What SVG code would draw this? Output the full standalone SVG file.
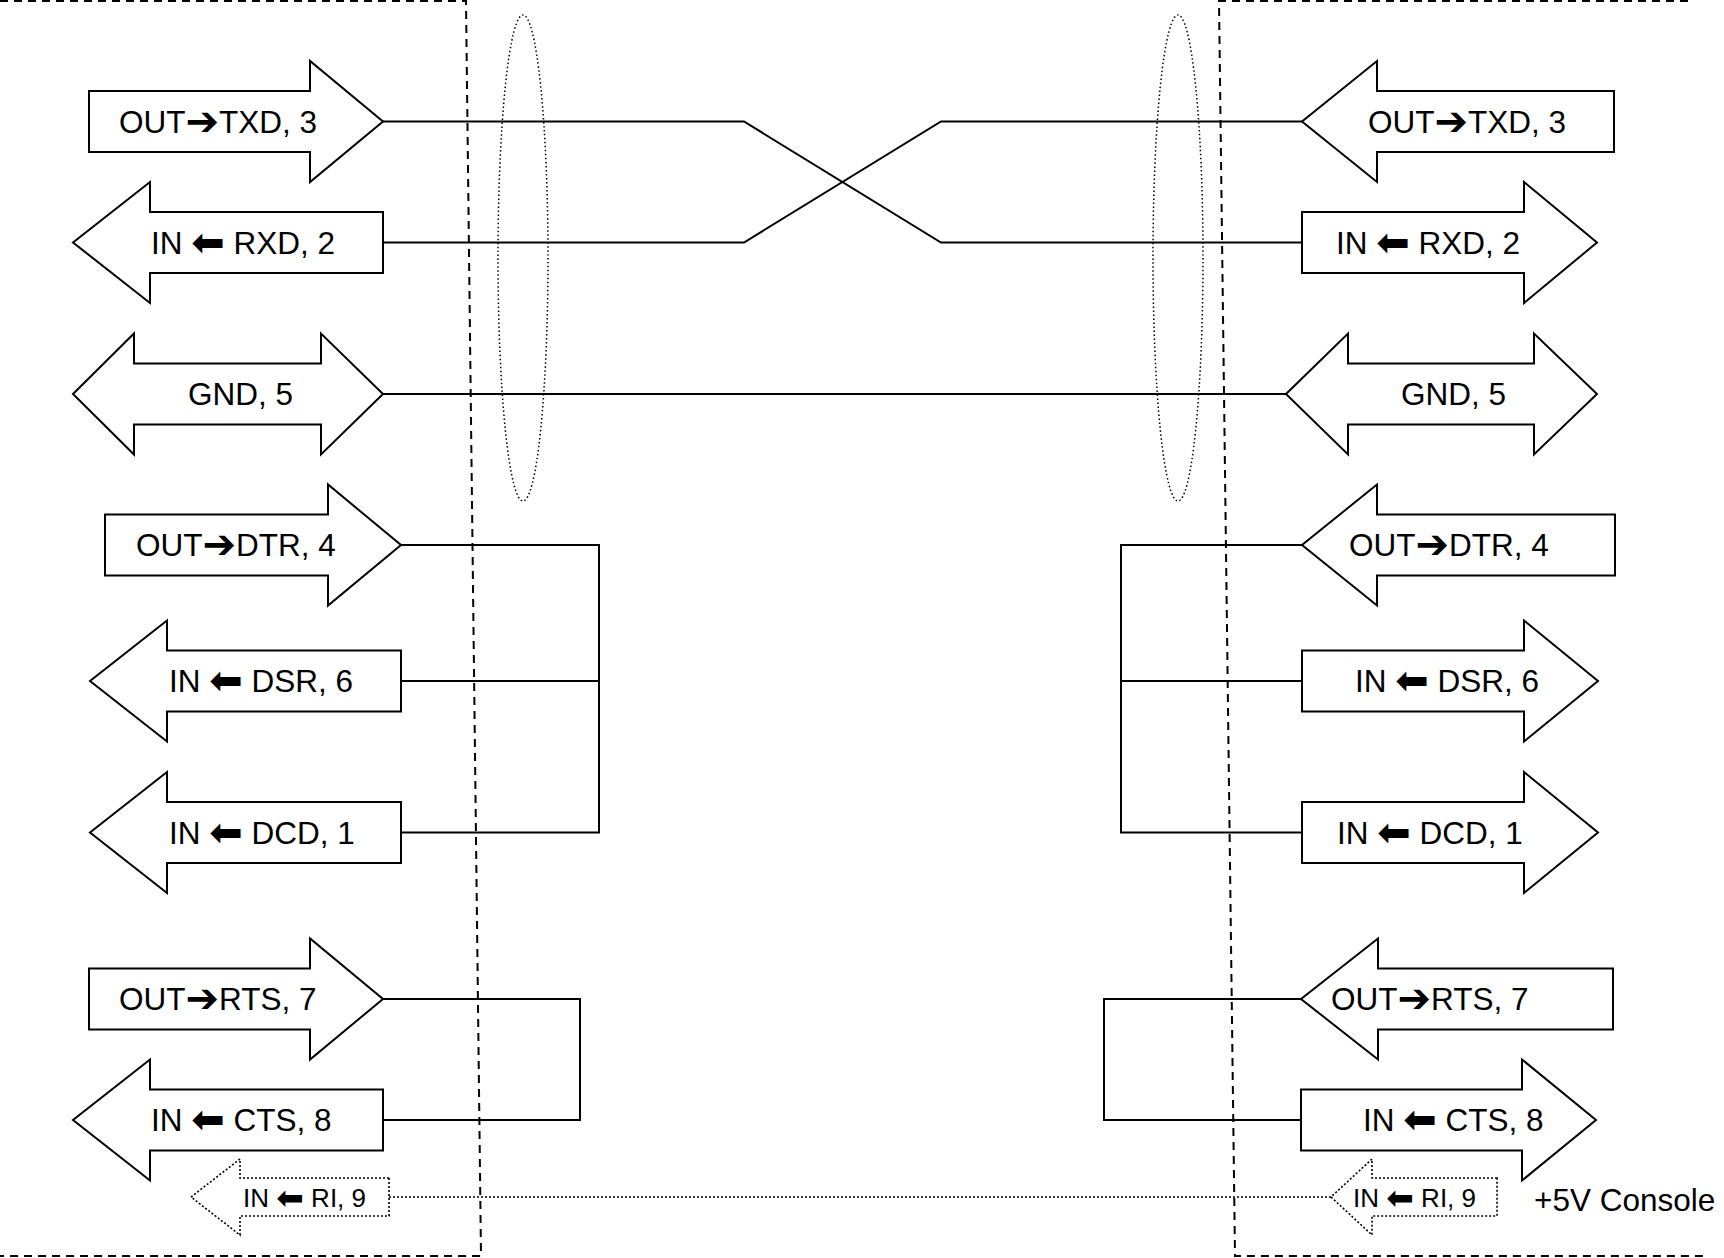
<svg xmlns="http://www.w3.org/2000/svg" width="1724" height="1258" viewBox="0 0 1724 1258">
<style>
.bg{fill:#fff}
.arr{fill:#fff;stroke:#000;stroke-width:2;stroke-linejoin:miter}
.dot{fill:#fff;stroke:#000;stroke-width:1.6;stroke-dasharray:2 2}
.w{fill:none;stroke:#000;stroke-width:2}
.wd{fill:none;stroke:#000;stroke-width:1.6;stroke-dasharray:2 2}
.box{fill:none;stroke:#000;stroke-width:2;stroke-dasharray:8 6}
.ell{fill:none;stroke:#000;stroke-width:1.5;stroke-dasharray:1.5 2.5}
text{font-family:"Liberation Sans","DejaVu Sans",sans-serif;font-size:31.5px;fill:#000}
.s{font-size:26px}
.a{font-family:"DejaVu Sans",sans-serif;font-size:40px}
.s .a{font-size:33px}
</style>
<rect class="bg" x="0" y="0" width="1724" height="1258"/>
<g id="boxes">
<polyline class="box" points="0,1 466,1 481,1256 0,1256"/>
<polyline class="box" points="1688,1 1219,1 1235,1256 1704,1256"/>
</g>
<g id="cables">
<ellipse class="ell" cx="523" cy="258" rx="25" ry="243"/>
<ellipse class="ell" cx="1178" cy="258" rx="25" ry="243"/>
</g>
<g id="connectors">
<polyline class="w" points="383,121.5 744,121.5 941,242.5 1302,242.5"/>
<polyline class="w" points="383,242.5 744,242.5 941,121.5 1302,121.5"/>
<line class="w" x1="383" y1="394" x2="1286" y2="394"/>
<polyline class="w" points="401,545 599,545 599,832.5 401,832.5"/>
<line class="w" x1="401" y1="681" x2="599" y2="681"/>
<polyline class="w" points="1302,545 1121,545 1121,832.5 1302,832.5"/>
<line class="w" x1="1121" y1="681" x2="1302" y2="681"/>
<polyline class="w" points="383,999 580,999 580,1120 383,1120"/>
<polyline class="w" points="1301,999 1104,999 1104,1120 1301,1120"/>
<line class="wd" x1="389" y1="1197" x2="1331" y2="1197"/>
</g>
<g id="l-txd"><path class="arr" d="M89,91H310V61L383,121.5L310,182V152H89Z"/><text x="119" y="132.5">OUT<tspan class="a" dy="2">➔</tspan><tspan dy="-2">TXD, 3</tspan></text></g>
<g id="l-rxd"><path class="arr" d="M383,212H150V182L73,242.5L150,303V273H383Z"/><text x="151" y="253.5">IN <tspan class="a" dy="2">⬅</tspan><tspan dy="-2"> RXD, 2</tspan></text></g>
<g id="l-gnd"><path class="arr" d="M73,394L134,333.5V363.5H321V333.5L383,394L321,454.5V424.5H134V454.5Z"/><text x="188" y="405">GND, 5</text></g>
<g id="l-dtr"><path class="arr" d="M105,514.5H328V484.5L401,545L328,605.5V575.5H105Z"/><text x="136" y="556">OUT<tspan class="a" dy="2">➔</tspan><tspan dy="-2">DTR, 4</tspan></text></g>
<g id="l-dsr"><path class="arr" d="M401,650.5H167V620.5L90,681L167,741.5V711.5H401Z"/><text x="169" y="692">IN <tspan class="a" dy="2">⬅</tspan><tspan dy="-2"> DSR, 6</tspan></text></g>
<g id="l-dcd"><path class="arr" d="M401,802H167V772L90,832.5L167,893V863H401Z"/><text x="169" y="843.5">IN <tspan class="a" dy="2">⬅</tspan><tspan dy="-2"> DCD, 1</tspan></text></g>
<g id="l-rts"><path class="arr" d="M89,968.5H310V938.5L383,999L310,1059.5V1029.5H89Z"/><text x="119" y="1010">OUT<tspan class="a" dy="2">➔</tspan><tspan dy="-2">RTS, 7</tspan></text></g>
<g id="l-cts"><path class="arr" d="M383,1089.5H150V1059.5L73,1120L150,1180.5V1150.5H383Z"/><text x="151" y="1131">IN <tspan class="a" dy="2">⬅</tspan><tspan dy="-2"> CTS, 8</tspan></text></g>
<g id="l-ri"><path class="dot" d="M389,1178H240V1159L191,1197L240,1235V1216H389Z"/><text class="s" x="243" y="1207">IN <tspan class="a" dy="1.5">⬅</tspan><tspan dy="-1.5"> RI, 9</tspan></text></g>
<g id="r-txd"><path class="arr" d="M1614,91H1377V61L1302,121.5L1377,182V152H1614Z"/><text x="1368" y="132.5">OUT<tspan class="a" dy="2">➔</tspan><tspan dy="-2">TXD, 3</tspan></text></g>
<g id="r-rxd"><path class="arr" d="M1302,212H1524V182L1597,242.5L1524,303V273H1302Z"/><text x="1336" y="253.5">IN <tspan class="a" dy="2">⬅</tspan><tspan dy="-2"> RXD, 2</tspan></text></g>
<g id="r-gnd"><path class="arr" d="M1286,394L1348,333.5V363.5H1534V333.5L1597,394L1534,454.5V424.5H1348V454.5Z"/><text x="1401" y="405">GND, 5</text></g>
<g id="r-dtr"><path class="arr" d="M1615,514.5H1377V484.5L1302,545L1377,605.5V575.5H1615Z"/><text x="1349" y="556">OUT<tspan class="a" dy="2">➔</tspan><tspan dy="-2">DTR, 4</tspan></text></g>
<g id="r-dsr"><path class="arr" d="M1302,650.5H1524V620.5L1598,681L1524,741.5V711.5H1302Z"/><text x="1355" y="692">IN <tspan class="a" dy="2">⬅</tspan><tspan dy="-2"> DSR, 6</tspan></text></g>
<g id="r-dcd"><path class="arr" d="M1302,802H1524V772L1598,832.5L1524,893V863H1302Z"/><text x="1337" y="843.5">IN <tspan class="a" dy="2">⬅</tspan><tspan dy="-2"> DCD, 1</tspan></text></g>
<g id="r-rts"><path class="arr" d="M1613,968.5H1378V938.5L1301,999L1378,1059.5V1029.5H1613Z"/><text x="1331" y="1010">OUT<tspan class="a" dy="2">➔</tspan><tspan dy="-2">RTS, 7</tspan></text></g>
<g id="r-cts"><path class="arr" d="M1301,1089.5H1522V1059.5L1596,1120L1522,1180.5V1150.5H1301Z"/><text x="1363" y="1131">IN <tspan class="a" dy="2">⬅</tspan><tspan dy="-2"> CTS, 8</tspan></text></g>
<g id="r-ri"><path class="dot" d="M1497,1178H1372V1159L1331,1197L1372,1235V1216H1497Z"/><text class="s" x="1353" y="1207">IN <tspan class="a" dy="1.5">⬅</tspan><tspan dy="-1.5"> RI, 9</tspan></text></g>
<g id="label"><text x="1534" y="1210.5">+5V Console</text></g>
</svg>
